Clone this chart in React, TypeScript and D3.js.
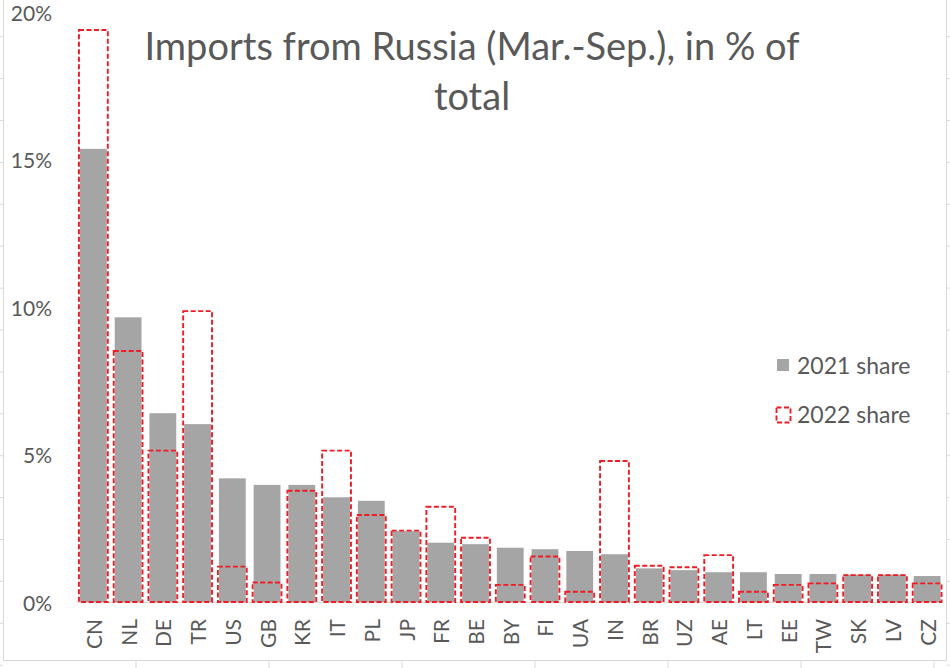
import * as d3 from 'd3';

// Imports from Russia (Mar.-Sep.), share of total, %
const countries = ['CN', 'NL', 'DE', 'TR', 'US', 'GB', 'KR', 'IT', 'PL', 'JP', 'FR', 'BE', 'BY', 'FI', 'UA', 'IN', 'BR', 'UZ', 'AE', 'LT', 'EE', 'TW', 'SK', 'LV', 'CZ'];
const share2021 = [15.36, 9.65, 6.40, 6.03, 4.19, 3.97, 3.97, 3.55, 3.43, 2.40, 2.01, 1.96, 1.84, 1.79, 1.73, 1.62, 1.14, 1.08, 1.01, 1.01, 0.95, 0.95, 0.93, 0.93, 0.88];
const share2022 = [19.39, 8.51, 5.13, 9.86, 1.20, 0.66, 3.77, 5.13, 2.95, 2.42, 3.23, 2.18, 0.58, 1.54, 0.35, 4.78, 1.23, 1.18, 1.59, 0.35, 0.58, 0.63, 0.91, 0.91, 0.63];
const yTicks = [0, 5, 10, 15, 20];
const titleLines = ['Imports from Russia (Mar.-Sep.), in % of', 'total'];

const FONT = 'Lato, "Open Sans", sans-serif';
const TEXT = '#595959';
const GRAY = '#a5a5a5';
const RED = '#ee1c25';
const FRAME = '#d9d9d9';
const DASH = '5 2.5';

export default function App() {
  const width = 950;
  const height = 668;

  const x = d3.scaleBand<string>()
    .domain(countries)
    .range([76, 944.5])
    .paddingInner(0.17)
    .paddingOuter(0.085);

  const y = d3.scaleLinear().domain([0, 20]).range([602, 12]);

  // spreadsheet cell lines peeking out around the chart frame
  const rowLines = d3.range(36.7, height, 41.9);
  const colLines = d3.range(136, width, 133);

  const bw = x.bandwidth();

  return (
    <svg width={width} height={height} style={{ position: 'absolute', left: 0, top: 0, background: '#fff' }}>
      {/* frame */}
      <line x1={3.5} x2={3.5} y1={0} y2={660.5} stroke={FRAME} />
      <line x1={946.5} x2={946.5} y1={0} y2={660.5} stroke={FRAME} />
      <line x1={3.5} x2={946.5} y1={660.5} y2={660.5} stroke={FRAME} />
      {rowLines.map((r, i) => (
        <g key={'r' + i}>
          <line x1={0} x2={3} y1={r} y2={r} stroke={FRAME} />
          <line x1={947} x2={950} y1={r} y2={r} stroke={FRAME} />
        </g>
      ))}
      {colLines.map((c, i) => (
        <line key={'c' + i} x1={c} x2={c} y1={661} y2={668} stroke={FRAME} />
      ))}

      {/* title */}
      {titleLines.map((t, i) => (
        <text key={t} x={472} y={45 + i * 50} textAnchor="middle" dominantBaseline="central"
          fontFamily={FONT} fontSize={38} fill={TEXT}>{t}</text>
      ))}

      {/* y tick labels */}
      {yTicks.map(t => (
        <text key={t} x={52} y={y(t)} textAnchor="end" dominantBaseline="central"
          fontFamily={FONT} fontSize={21} fill={TEXT}>{t}%</text>
      ))}

      {/* 2021 bars */}
      {countries.map((c, i) => (
        <rect key={'a' + c} x={(x(c) as number) + 1} width={bw - 2}
          y={y(share2021[i])} height={y(0) - y(share2021[i])} fill={GRAY} />
      ))}

      {/* baseline */}
      <line x1={x.range()[0]} x2={x.range()[1] - 2} y1={y(0) + 0.5} y2={y(0) + 0.5} stroke={FRAME} />

      {/* 2022 dashed boxes */}
      {countries.map((c, i) => (
        <rect key={'b' + c} x={x(c) as number} width={bw}
          y={y(share2022[i])} height={y(0) - y(share2022[i])}
          fill="none" stroke={RED} strokeWidth={1.9} strokeDasharray={DASH} />
      ))}

      {/* x labels */}
      {countries.map(c => {
        const cx = (x(c) as number) + bw / 2;
        return (
          <text key={'l' + c} transform={`translate(${cx},619) rotate(-90)`} textAnchor="end"
            dominantBaseline="central" fontFamily={FONT} fontSize={21} fill={TEXT}>{c}</text>
        );
      })}

      {/* legend */}
      <rect x={777} y={359} width={12} height={12} fill={GRAY} />
      <text x={797} y={365} dominantBaseline="central" fontFamily={FONT} fontSize={23} fill={TEXT}>2021 share</text>
      <rect x={776.5} y={407.5} width={14} height={15} fill="none" stroke={RED} strokeWidth={1.9} strokeDasharray={DASH} />
      <text x={797} y={414} dominantBaseline="central" fontFamily={FONT} fontSize={23} fill={TEXT}>2022 share</text>
    </svg>
  );
}
